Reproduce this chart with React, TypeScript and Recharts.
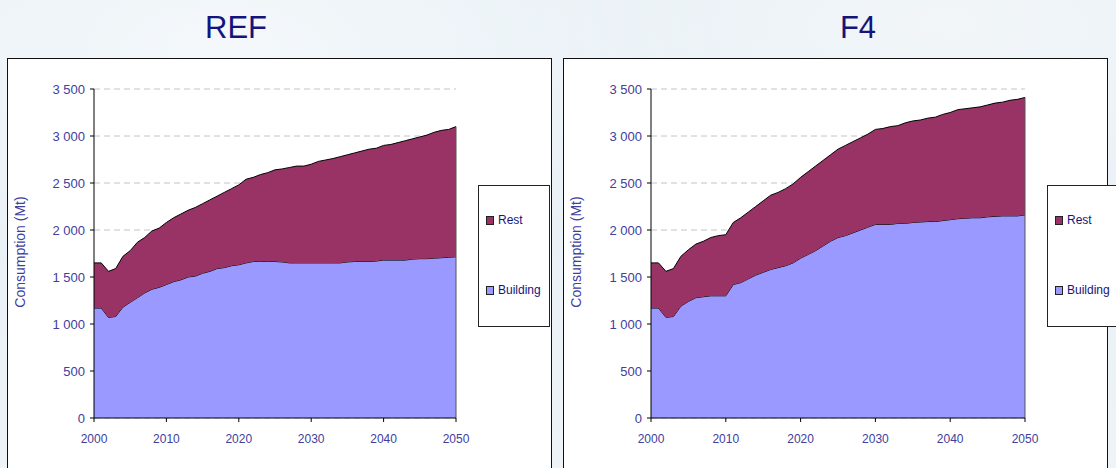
import React from 'react'
import { AreaChart, Area, XAxis, YAxis, CartesianGrid, ReferenceLine } from 'recharts'

const years = [
  2000, 2001, 2002, 2003, 2004, 2005, 2006, 2007, 2008, 2009,
  2010, 2011, 2012, 2013, 2014, 2015, 2016, 2017, 2018, 2019,
  2020, 2021, 2022, 2023, 2024, 2025, 2026, 2027, 2028, 2029,
  2030, 2031, 2032, 2033, 2034, 2035, 2036, 2037, 2038, 2039,
  2040, 2041, 2042, 2043, 2044, 2045, 2046, 2047, 2048, 2049,
  2050,
]

// REF scenario (Mt)
const refBuilding = [
  1170, 1170, 1070, 1080, 1180, 1230, 1280, 1330, 1370, 1390,
  1420, 1450, 1470, 1500, 1510, 1540, 1560, 1590, 1600, 1620,
  1630, 1650, 1665, 1665, 1665, 1665, 1660, 1650, 1650, 1650,
  1650, 1650, 1650, 1650, 1650, 1660, 1665, 1665, 1665, 1670,
  1680, 1680, 1680, 1680, 1690, 1695, 1695, 1700, 1705, 1710,
  1715,
]
const refRest = [
  480, 480, 490, 510, 540, 550, 590, 590, 620, 630,
  660, 680, 700, 710, 730, 740, 760, 770, 800, 820,
  850, 890, 895, 925, 945, 975, 990, 1015, 1030, 1030,
  1050, 1080, 1095, 1110, 1130, 1140, 1155, 1175, 1195, 1200,
  1220, 1230, 1250, 1270, 1280, 1295, 1315, 1340, 1355, 1360,
  1385,
]

// F4 scenario (Mt)
const f4Building = [
  1170, 1170, 1070, 1080, 1190, 1240, 1280, 1290, 1300, 1300,
  1300, 1420, 1440, 1480, 1520, 1550, 1580, 1600, 1620, 1650,
  1700, 1740, 1780, 1830, 1880, 1920, 1940, 1970, 2000, 2030,
  2060, 2060, 2060, 2070, 2070, 2080, 2085, 2090, 2090, 2100,
  2110, 2120, 2125, 2130, 2130, 2140, 2145, 2150, 2150, 2150,
  2160,
]
const f4Rest = [
  480, 480, 490, 510, 530, 550, 570, 590, 620, 640,
  650, 660, 690, 710, 730, 760, 790, 800, 820, 840,
  860, 880, 900, 910, 920, 940, 960, 970, 980, 990,
  1010, 1020, 1040, 1040, 1070, 1080, 1085, 1100, 1110, 1130,
  1140, 1160, 1165, 1170, 1180, 1190, 1205, 1210, 1230, 1240,
  1250,
]

const xTicks = [2000, 2010, 2020, 2030, 2040, 2050]
const yTicks = [0, 500, 1000, 1500, 2000, 2500, 3000, 3500]
const seriesNames = ['Rest', 'Building']

const FONT = '"Liberation Sans", Arial, sans-serif'
const AXIS_TEXT = '#40409c'
const NAVY = '#14147a'
const REST_COLOR = '#993366'
const BUILDING_COLOR = '#9999ff'

const fmt = (v: number) => String(v).replace(/\B(?=(\d{3})+(?!\d))/g, ' ')

type PanelProps = {
  title: string
  building: number[]
  rest: number[]
  left: number // left edge of the panel box
  plotLeft: number
  plotRight: number
  titleX: number
  legendLeft: number
}

function ScenarioPanel({ title, building, rest, left, plotLeft, plotRight, titleX, legendLeft }: PanelProps) {
  const data = years.map((year, i) => ({ year, Building: building[i], Rest: rest[i] }))
  const last = data[data.length - 1]
  const yAxisWidth = 94
  const chartLeft = plotLeft - yAxisWidth
  const rightMargin = 14
  const width = plotRight - chartLeft + rightMargin

  return (
    <>
      <div
        style={{
          position: 'absolute',
          left: titleX - 60,
          width: 120,
          top: 10,
          textAlign: 'center',
          fontFamily: FONT,
          fontSize: 31,
          color: NAVY,
        }}
      >
        {title}
      </div>
      <div
        style={{
          position: 'absolute',
          left,
          top: 58,
          width: 543,
          height: 430,
          background: '#fff',
          border: '1px solid #111',
        }}
      />
      <div
        style={{
          position: 'absolute',
          left: left + 13,
          top: 252,
          fontFamily: FONT,
          fontSize: 14,
          color: AXIS_TEXT,
          transform: 'translate(-50%, -50%) rotate(-90deg)',
          whiteSpace: 'nowrap',
        }}
      >
        Consumption (Mt)
      </div>
      <div style={{ position: 'absolute', left: chartLeft, top: 0 }}>
        <AreaChart
          width={width}
          height={468}
          data={data}
          margin={{ top: 89, right: rightMargin, left: 0, bottom: 20 }}
        >
          <CartesianGrid vertical={false} stroke="#c4c4c4" strokeDasharray="6 4" />
          <XAxis
            dataKey="year"
            type="number"
            domain={[2000, 2050]}
            ticks={xTicks}
            height={30}
            tickSize={4}
            tickMargin={12}
            stroke="#000"
            tick={{ fill: AXIS_TEXT, fontSize: 12, fontFamily: FONT }}
          />
          <YAxis
            type="number"
            domain={[0, 3500]}
            ticks={yTicks}
            width={yAxisWidth}
            tickSize={4}
            tickMargin={5}
            tickFormatter={fmt}
            stroke="#000"
            tick={{ fill: AXIS_TEXT, fontSize: 13, fontFamily: FONT }}
          />
          <Area
            type="linear"
            dataKey="Building"
            stackId="1"
            fill={BUILDING_COLOR}
            fillOpacity={1}
            stroke="#000"
            strokeWidth={1}
            isAnimationActive={false}
          />
          <Area
            type="linear"
            dataKey="Rest"
            stackId="1"
            fill={REST_COLOR}
            fillOpacity={1}
            stroke="#000"
            strokeWidth={1}
            isAnimationActive={false}
          />
          <ReferenceLine
            segment={[
              { x: last.year, y: 0 },
              { x: last.year, y: last.Building + last.Rest },
            ]}
            stroke="#555"
          />
        </AreaChart>
      </div>
      <div
        style={{
          position: 'absolute',
          left: legendLeft,
          top: 185,
          width: 70,
          height: 140,
          background: '#fff',
          border: '1px solid #222',
          fontFamily: FONT,
          fontSize: 12,
          color: NAVY,
        }}
      >
        {seriesNames.map((name, i) => (
          <div
            key={name}
            style={{
              position: 'absolute',
              left: 7,
              top: i === 0 ? 27 : 97,
              display: 'flex',
              alignItems: 'center',
              whiteSpace: 'nowrap',
            }}
          >
            <span
              style={{
                display: 'inline-block',
                width: 6,
                height: 7,
                border: '1px solid #222',
                background: name === 'Rest' ? REST_COLOR : BUILDING_COLOR,
                marginRight: 4,
              }}
            />
            {name}
          </div>
        ))}
      </div>
    </>
  )
}

export default function App() {
  return (
    <div
      style={{
        position: 'absolute',
        left: 0,
        top: 0,
        width: 1116,
        height: 468,
        overflow: 'hidden',
        background:
          'radial-gradient(ellipse at 20% 10%, #f4f8fb 0%, rgba(244,248,251,0) 40%), radial-gradient(ellipse at 85% 5%, #f2f6f9 0%, rgba(242,246,249,0) 35%), linear-gradient(180deg, #e7eff5 0%, #edf3f7 100%)',
      }}
    >
      <ScenarioPanel
        title="REF"
        building={refBuilding}
        rest={refRest}
        left={7}
        plotLeft={94}
        plotRight={456}
        titleX={236}
        legendLeft={478}
      />
      <ScenarioPanel
        title="F4"
        building={f4Building}
        rest={f4Rest}
        left={563}
        plotLeft={651}
        plotRight={1025}
        titleX={858}
        legendLeft={1047}
      />
    </div>
  )
}
